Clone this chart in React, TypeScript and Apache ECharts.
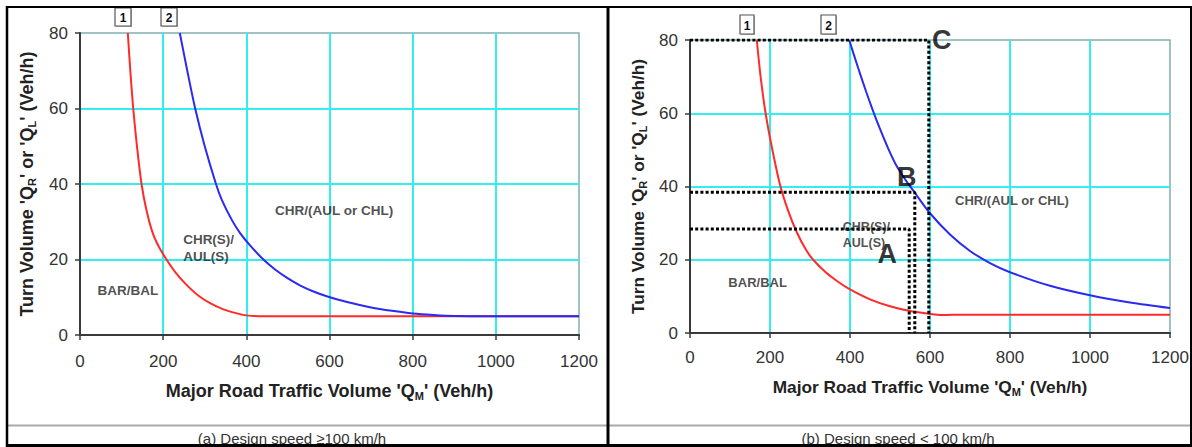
import React, { useEffect, useRef } from "react";
import * as echarts from "echarts";

const FONT = "'Liberation Sans', Arial, Helvetica, sans-serif";

// Axis ranges / ticks
const xMin = 0, xMax = 1200, xStep = 200;
const yMin = 0, yMax = 80, yStep = 20;

// Panel (a) Design speed >= 100 km/h
const aCurve1: [number, number][] = [
  [115, 80], [121, 70], [128, 60], [137, 50], [148, 40], [160, 33], [175, 27], [190, 23.3],
  [208, 20], [230, 16.5], [255, 13.4], [285, 10.4], [315, 8.3], [345, 6.8], [375, 5.8],
  [400, 5.2], [430, 5], [500, 5], [700, 5], [900, 5], [1200, 5],
];
const aCurve2: [number, number][] = [
  [240, 80], [258, 70], [277, 60], [300, 50], [327, 40], [341, 35.8], [365, 30.5], [385, 27],
  [410, 23.6], [441, 20], [470, 17.3], [500, 15], [530, 13.1], [560, 11.6], [595, 10.2],
  [640, 8.8], [700, 7.3], [750, 6.4], [800, 5.7], [850, 5.3], [900, 5.05], [1000, 5], [1200, 5],
];

// Panel (b) Design speed < 100 km/h
const bCurve1: [number, number][] = [
  [167, 80], [177, 69.5], [189, 60], [205, 50.5], [225, 40.5], [245, 33.5], [267, 27.5],
  [290, 22.7], [308, 20], [340, 16.5], [370, 14], [400, 11.9], [450, 9.2], [500, 7.3],
  [550, 6], [600, 5.2], [630, 4.9], [680, 5], [800, 5], [1000, 5], [1200, 5],
];
const bCurve2: [number, number][] = [
  [398, 80], [420, 72.5], [440, 66], [458, 60.5], [475, 55.7], [495, 50.5], [517, 45.5],
  [540, 41.6], [562, 38.3], [600, 32.7], [650, 26.9], [700, 22.4], [750, 19.1], [800, 16.6],
  [900, 12.9], [1000, 10.3], [1100, 8.3], [1200, 6.8],
];

// Worked example guide lines (panel b)
const lineA: [number, number][] = [[0, 28.4], [548, 28.4], [548, 0]];
const lineB: [number, number][] = [[0, 38.4], [562, 38.4], [562, 0]];
const lineC: [number, number][] = [[0, 80], [597, 80], [597, 0]];

const pointLabels = [
  { name: "A", value: [548, 28.4], offset: [-22, 25] },
  { name: "B", value: [562, 38.4], offset: [-8, -15] },
  { name: "C", value: [597, 80], offset: [13, 0] },
];

// Region labels
const aRegionCentered = [
  { name: "BAR/BAL", value: [115, 11.7] },
  { name: "CHR/(AUL or CHL)", value: [611, 33.1] },
];
const aRegionLeft = [{ name: "CHR(S)/\nAUL(S)", value: [248, 23] }];
const bRegionCentered = [
  { name: "BAR/BAL", value: [169, 13.7] },
  { name: "CHR/(AUL or CHL)", value: [805, 36.1] },
];
const bRegionLeft = [{ name: "CHR(S)/\nAUL(S)", value: [382, 26.7] }];

const captionA = "(a) Design speed \u2265100 km/h";
const captionB = "(b) Design speed < 100 km/h";
const yName = "{a|Turn Volume 'Q}{s|R}{a|' or 'Q}{s|L}{a|' (Veh/h)}";
const xName = "{a|Major Road Traffic Volume 'Q}{s|M}{a|' (Veh/h)}";

const RED = "#ff2a2a";
const BLUE = "#2a2af0";
const CYAN = "#33eeee";
const AXIS = "#3a3a3a";

function nameRich(size: number) {
  return {
    a: { fontSize: size, fontWeight: "bold", fontFamily: FONT, color: "#222", lineHeight: 22 },
    s: {
      fontSize: Math.round(size * 0.62),
      fontWeight: "bold",
      fontFamily: FONT,
      color: "#222",
      padding: [10, 0, 0, 0],
    },
  };
}

function xAxis(gridIndex: number, nameGap: number, labelMargin: number, nameSize: number) {
  return {
    type: "value",
    gridIndex,
    min: xMin,
    max: xMax,
    interval: xStep,
    name: xName,
    nameLocation: "middle",
    nameGap,
    nameTextStyle: { rich: nameRich(nameSize) },
    axisLine: { show: true, onZero: false, lineStyle: { color: AXIS, width: 2 } },
    axisTick: { show: true, inside: false, length: 5, lineStyle: { color: AXIS, width: 1.5 } },
    axisLabel: {
      color: "#333",
      fontSize: 17,
      fontFamily: FONT,
      margin: labelMargin,
      formatter: (v: number) => String(v),
    },
    splitLine: { show: true, showMinLine: false, showMaxLine: false, lineStyle: { color: CYAN, width: 2 } },
  };
}

function yAxis(gridIndex: number, nameGap: number, nameSize: number) {
  return {
    type: "value",
    gridIndex,
    min: yMin,
    max: yMax,
    interval: yStep,
    name: yName,
    nameLocation: "middle",
    nameRotate: 90,
    nameGap,
    nameTextStyle: { rich: nameRich(nameSize) },
    axisLine: { show: true, onZero: false, lineStyle: { color: AXIS, width: 2 } },
    axisTick: { show: true, inside: false, length: 5, lineStyle: { color: AXIS, width: 1.5 } },
    axisLabel: { color: "#333", fontSize: 17, fontFamily: FONT, margin: 12, formatter: (v: number) => String(v) },
    splitLine: { show: true, showMinLine: false, showMaxLine: false, lineStyle: { color: CYAN, width: 2 } },
  };
}

function curve(data: [number, number][], color: string, idx: number) {
  return {
    type: "line",
    xAxisIndex: idx,
    yAxisIndex: idx,
    data,
    smooth: 0.3,
    symbol: "none",
    lineStyle: { color, width: 2 },
    z: 3,
    silent: true,
  };
}

function guide(data: [number, number][]) {
  return {
    type: "line",
    xAxisIndex: 1,
    yAxisIndex: 1,
    data,
    symbol: "none",
    lineStyle: { color: "#000", width: 3, type: [3, 2.2] },
    z: 4,
    silent: true,
  };
}

function regionLabels(data: any[], idx: number, align: string, size: number) {
  return {
    type: "scatter",
    xAxisIndex: idx,
    yAxisIndex: idx,
    data,
    symbolSize: 0,
    z: 6,
    silent: true,
    label: {
      show: true,
      position: "inside",
      formatter: "{b}",
      align,
      verticalAlign: "middle",
      fontSize: size,
      fontWeight: "bold",
      fontFamily: FONT,
      color: "#222",
      lineHeight: 16.5,
    },
  };
}

function boxLabel(x: number, y: number, w: number, h: number, t: string) {
  return {
    type: "group",
    children: [
      { type: "rect", shape: { x: x + 1, y: y + 1, width: w, height: h }, style: { fill: "#bbb" } },
      { type: "rect", shape: { x, y, width: w, height: h }, style: { fill: "#fff", stroke: "#555", lineWidth: 1.2 } },
      {
        type: "text",
        x: x + w / 2,
        y: y + h / 2 + 1,
        style: { text: t, fontSize: 12, fontWeight: "bold", fontFamily: FONT, fill: "#111", align: "center", verticalAlign: "middle" },
      },
    ],
  };
}

function hline(x1: number, x2: number, y: number, color: string, w: number) {
  return { type: "line", shape: { x1, y1: y, x2, y2: y }, style: { stroke: color, lineWidth: w }, z: 50 };
}
function vline(x: number, y1: number, y2: number, color: string, w: number) {
  return { type: "line", shape: { x1: x, y1, x2: x, y2 }, style: { stroke: color, lineWidth: w }, z: 50 };
}

export default function App() {
  const ref = useRef<HTMLDivElement>(null);
  useEffect(() => {
    const chart = echarts.init(ref.current!, null, { renderer: "svg" });
    const option: any = {
      animation: false,
      backgroundColor: "#fff",
      grid: [
        { left: 80, top: 33, width: 499, height: 302, show: true, borderColor: "#7fb0b0", borderWidth: 1.5, backgroundColor: "transparent" },
        { left: 690, top: 40, width: 480, height: 293, show: true, borderColor: "#7fb0b0", borderWidth: 1.5, backgroundColor: "transparent" },
      ],
      xAxis: [xAxis(0, 45, 18, 18), xAxis(1, 43, 16, 17.3)],
      yAxis: [yAxis(0, 42, 18), yAxis(1, 41, 17.3)],
      series: [
        curve(aCurve1, RED, 0),
        curve(aCurve2, BLUE, 0),
        curve(bCurve1, RED, 1),
        curve(bCurve2, BLUE, 1),
        guide(lineA),
        guide(lineB),
        guide(lineC),
        regionLabels(aRegionCentered, 0, "center", 13.5),
        regionLabels(aRegionLeft, 0, "left", 13.5),
        regionLabels(bRegionCentered, 1, "center", 13),
        regionLabels(bRegionLeft, 1, "left", 12.5),
        {
          type: "scatter",
          xAxisIndex: 1,
          yAxisIndex: 1,
          symbolSize: 0,
          z: 7,
          silent: true,
          data: pointLabels.map((p) => ({
            name: p.name,
            value: p.value,
            label: { offset: p.offset },
          })),
          label: {
            show: true,
            position: "inside",
            formatter: "{b}",
            fontSize: 27,
            fontWeight: "bold",
            fontFamily: FONT,
            color: "#000",
          },
        },
      ],
      graphic: [
        boxLabel(115, 8, 16, 18, "1"),
        boxLabel(161, 8, 16, 18, "2"),
        boxLabel(740, 15, 14, 19, "1"),
        boxLabel(821, 15, 15, 19, "2"),
        {
          type: "text",
          x: 292,
          y: 438,
          z: 40,
          style: { text: captionA, fontSize: 15, fontFamily: FONT, fill: "#333", align: "center", verticalAlign: "middle" },
        },
        {
          type: "text",
          x: 898,
          y: 438,
          z: 40,
          style: { text: captionB, fontSize: 15, fontFamily: FONT, fill: "#333", align: "center", verticalAlign: "middle" },
        },
        hline(8, 1190, 425.5, "#aaa", 2),
        hline(6, 1192, 7, "#000", 2),
        vline(7, 6, 447, "#000", 2.5),
        vline(608, 6, 447, "#000", 3),
        vline(1191, 6, 447, "#000", 2),
        hline(6, 1192, 445.5, "#000", 3),
      ],
    };
    chart.setOption(option);
    return () => chart.dispose();
  }, []);
  return (
    <div
      ref={ref}
      style={{ position: "fixed", left: 0, top: 0, width: 1192, height: 447, background: "#fff" }}
    />
  );
}
